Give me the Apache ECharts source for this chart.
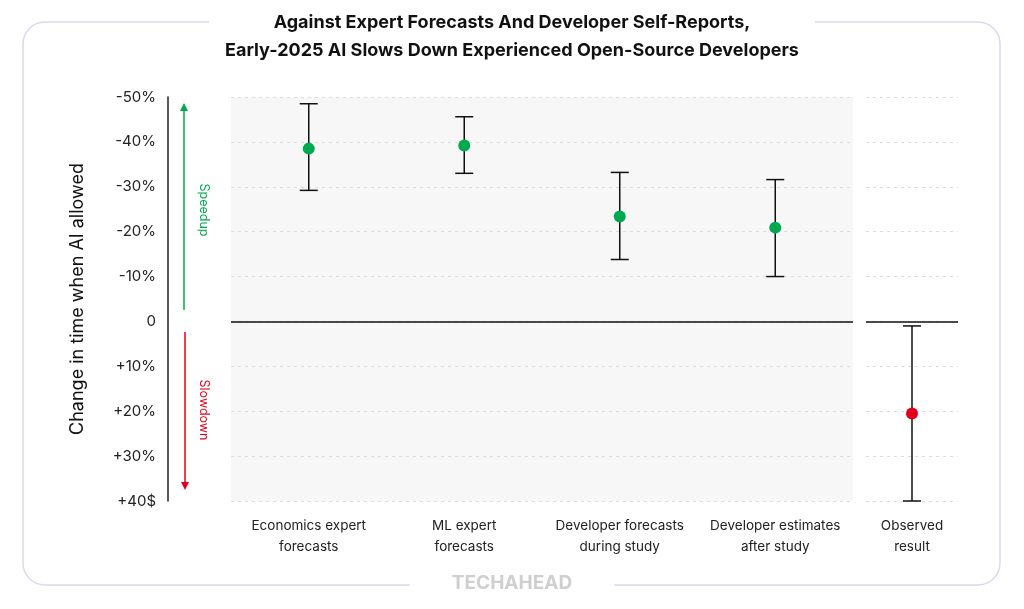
<!DOCTYPE html>
<html>
<head>
<meta charset="utf-8">
<script src="https://cdn.jsdelivr.net/npm/echarts@6/dist/echarts.min.js"></script>
<style>html,body{margin:0;padding:0;background:#fff}#c{width:1024px;height:609px}</style>
</head>
<body>
<div id="c"></div>
<script>
const categories = ['Economics expert\nforecasts', 'ML expert\nforecasts', 'Developer forecasts\nduring study', 'Developer estimates\nafter study']
const observedCategory = ['Observed\nresult']
const estimates = [-38.5, -39.2, -23.4, -20.9]
const estimateLow = [-48.5, -45.6, -33.2, -31.6]
const estimateHigh = [-29.2, -33, -13.8, -10]
const observed = [20.5]
const observedLow = [1]
const observedHigh = [40]
const tickLabels = {'-50': '-50%', '-40': '-40%', '-30': '-30%', '-20': '-20%', '-10': '-10%', '0': '0', '10': '+10%', '20': '+20%', '30': '+30%', '40': '+40$'}

const font = 'Inter'
const chart = echarts.init(document.getElementById('c'))

function errorBar(params, api) {
  const x = api.value(0)
  const top = api.coord([x, api.value(1)])
  const bot = api.coord([x, api.value(2)])
  const w = 9
  const st = {stroke: '#111', lineWidth: 1.5}
  return {type: 'group', children: [
    {type: 'line', shape: {x1: top[0], y1: top[1], x2: bot[0], y2: bot[1]}, style: st},
    {type: 'line', shape: {x1: top[0] - w, y1: top[1], x2: top[0] + w, y2: top[1]}, style: st},
    {type: 'line', shape: {x1: bot[0] - w, y1: bot[1], x2: bot[0] + w, y2: bot[1]}, style: st}
  ]}
}

const yBase = {
  type: 'value', min: -50, max: 40, interval: 10, inverse: true,
  splitLine: {show: true, lineStyle: {color: '#dcdcdc', type: [3, 4]}}
}
const xLabel = {color: '#222', fontFamily: font, fontSize: 13.5, lineHeight: 21, margin: 14, interval: 0}

chart.setOption({
  animation: false,
  title: {
    text: 'Against Expert Forecasts And Developer Self-Reports,\nEarly-2025 AI Slows Down Experienced Open-Source Developers',
    left: 'center', top: 9,
    textStyle: {fontFamily: font, fontSize: 18, fontWeight: 'bold', lineHeight: 28, color: '#111'},
    backgroundColor: '#fff', padding: [0, 16]
  },
  grid: [
    {left: 231, right: 1024 - 853, top: 97, bottom: 609 - 501, show: true, backgroundColor: '#f7f7f7', borderWidth: 0},
    {left: 866, right: 1024 - 958, top: 97, bottom: 609 - 501}
  ],
  xAxis: [
    {type: 'category', gridIndex: 0, data: categories, axisLine: {show: false}, axisTick: {show: false}, axisLabel: xLabel},
    {type: 'category', gridIndex: 1, data: observedCategory, axisLine: {show: false}, axisTick: {show: false}, axisLabel: xLabel}
  ],
  yAxis: [
    Object.assign({}, yBase, {gridIndex: 0, offset: 63,
      axisLine: {show: true, lineStyle: {color: '#222', width: 1.5}}, axisTick: {show: false},
      axisLabel: {color: '#222', fontFamily: font, fontSize: 15, margin: 12, formatter: v => tickLabels[v]}}),
    Object.assign({}, yBase, {gridIndex: 1, axisLine: {show: false}, axisTick: {show: false}, axisLabel: {show: false}})
  ],
  series: [
    {type: 'custom', xAxisIndex: 0, yAxisIndex: 0, renderItem: errorBar,
      data: estimates.map((v, i) => [i, estimateLow[i], estimateHigh[i]]),
      markLine: {silent: true, symbol: 'none', label: {show: false}, lineStyle: {color: '#111', width: 1.5, type: 'solid'}, data: [{yAxis: 0}]}},
    {type: 'scatter', xAxisIndex: 0, yAxisIndex: 0, symbolSize: 12, itemStyle: {color: '#00a84f', opacity: 1}, z: 5,
      data: estimates.map((v, i) => [i, v])},
    {type: 'custom', xAxisIndex: 1, yAxisIndex: 1, renderItem: errorBar,
      data: observed.map((v, i) => [i, observedLow[i], observedHigh[i]]),
      markLine: {silent: true, symbol: 'none', label: {show: false}, lineStyle: {color: '#111', width: 1.5, type: 'solid'}, data: [{yAxis: 0}]}},
    {type: 'scatter', xAxisIndex: 1, yAxisIndex: 1, symbolSize: 12, itemStyle: {color: '#e3001b', opacity: 1}, z: 5,
      data: observed.map((v, i) => [i, v])}
  ],
  graphic: [
    {type: 'rect', z: -10, shape: {x: 23, y: 22, width: 977, height: 563, r: 22}, style: {fill: 'none', stroke: '#dcd8ee', lineWidth: 1.5}},
    {type: 'rect', z: -9, shape: {x: 410, y: 575, width: 204, height: 20}, style: {fill: '#fff'}},
    {type: 'text', left: 'center', top: 574, style: {text: 'TECHAHEAD', fontFamily: font, fontSize: 19, fontWeight: 'bold', fill: '#cfcfcf'}},
    {type: 'line', shape: {x1: 184, y1: 310, x2: 184, y2: 108}, style: {stroke: '#00a84f', lineWidth: 1.5}},
    {type: 'polygon', shape: {points: [[184, 103], [180, 111], [188, 111]]}, style: {fill: '#00a84f'}},
    {type: 'line', shape: {x1: 185, y1: 332, x2: 185, y2: 485}, style: {stroke: '#e3001b', lineWidth: 1.5}},
    {type: 'polygon', shape: {points: [[185, 490], [181, 482], [189, 482]]}, style: {fill: '#e3001b'}},
    {type: 'text', x: 204, y: 210, rotation: -Math.PI / 2, style: {text: 'Speedup', fontFamily: font, fontSize: 12.5, fill: '#00a84f', align: 'center', verticalAlign: 'middle'}},
    {type: 'text', x: 204, y: 410, rotation: -Math.PI / 2, style: {text: 'Slowdown', fontFamily: font, fontSize: 12.5, fill: '#e3001b', align: 'center', verticalAlign: 'middle'}},
    {type: 'text', x: 78, y: 299, rotation: Math.PI / 2, style: {text: 'Change in time when AI allowed', fontFamily: font, fontSize: 18, fill: '#111', align: 'center', verticalAlign: 'middle'}}
  ]
})
</script>
</body>
</html>
